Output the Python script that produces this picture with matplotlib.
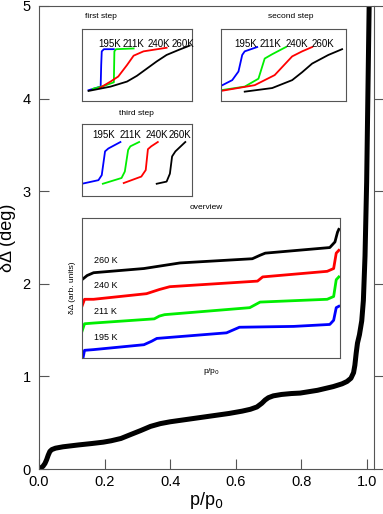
import matplotlib
matplotlib.use("Agg")
import matplotlib.pyplot as plt

plt.rcParams['font.family'] = ['Liberation Sans', 'DejaVu Sans']

# main isotherm
main_x = [0.0, 0.005, 0.012, 0.018, 0.023, 0.028, 0.033, 0.039, 0.05, 0.073, 0.12, 0.16, 0.196, 0.22,
          0.25, 0.278, 0.31, 0.34, 0.37, 0.40, 0.44, 0.48, 0.53, 0.58, 0.62, 0.645, 0.665, 0.68,
          0.69, 0.70, 0.715, 0.74, 0.77, 0.797, 0.85, 0.898, 0.925, 0.94, 0.952, 0.96, 0.964,
          0.968, 0.972, 0.978, 0.985, 0.99, 0.995, 1.0, 1.004, 1.008]
main_y = [0.0, 0.01, 0.03, 0.06, 0.1, 0.15, 0.19, 0.21, 0.225, 0.24, 0.26, 0.275, 0.29, 0.305,
          0.33, 0.37, 0.415, 0.46, 0.49, 0.51, 0.53, 0.55, 0.575, 0.60, 0.625, 0.645, 0.67, 0.71,
          0.745, 0.77, 0.79, 0.805, 0.815, 0.82, 0.85, 0.89, 0.92, 0.945, 0.98, 1.04, 1.12,
          1.25, 1.36, 1.45, 1.6, 1.82, 2.3, 3.1, 4.1, 5.1]

colors = ['#0000ff', '#00ee00', '#ff0000', '#000000']
temps = ['195K', '211K', '240K', '260K']

# first step inset
s1_x = [[0.06, 0.17, 0.175, 0.18, 0.2, 0.29],
        [0.1, 0.2, 0.29, 0.295, 0.31, 0.47],
        [0.16, 0.26, 0.33, 0.41, 0.47, 0.56, 0.77],
        [0.06, 0.26, 0.41, 0.5, 0.59, 0.68, 0.77, 0.88, 0.98]]
s1_y = [[0.15, 0.2, 0.5, 0.69, 0.72, 0.72],
        [0.17, 0.21, 0.26, 0.69, 0.72, 0.73],
        [0.18, 0.27, 0.34, 0.5, 0.63, 0.69, 0.74],
        [0.14, 0.2, 0.27, 0.35, 0.45, 0.55, 0.64, 0.71, 0.77]]
s1_lab_x = [0.25, 0.47, 0.70, 0.92]

# second step inset
s2_x = [[0.0, 0.09, 0.14, 0.17, 0.19, 0.29],
        [0.0, 0.19, 0.3, 0.35, 0.41, 0.52],
        [0.0, 0.27, 0.43, 0.5, 0.57, 0.65, 0.73],
        [0.19, 0.41, 0.57, 0.65, 0.73, 0.86, 0.97]]
s2_y = [[0.21, 0.29, 0.41, 0.64, 0.69, 0.75],
        [0.15, 0.2, 0.31, 0.59, 0.65, 0.75],
        [0.14, 0.22, 0.36, 0.49, 0.62, 0.69, 0.75],
        [0.13, 0.18, 0.29, 0.4, 0.52, 0.64, 0.72]]
s2_lab_x = [0.2, 0.40, 0.61, 0.82]

# third step inset
s3_x = [[0.0, 0.15, 0.18, 0.21, 0.24, 0.35],
        [0.19, 0.36, 0.39, 0.42, 0.44, 0.52],
        [0.38, 0.54, 0.58, 0.60, 0.63, 0.69],
        [0.68, 0.77, 0.80, 0.82, 0.85, 0.94]]
s3_y = [[0.17, 0.22, 0.29, 0.62, 0.66, 0.75],
        [0.17, 0.25, 0.34, 0.64, 0.69, 0.75],
        [0.18, 0.27, 0.36, 0.65, 0.69, 0.75],
        [0.17, 0.2, 0.31, 0.55, 0.62, 0.75]]
s3_lab_x = [0.2, 0.44, 0.68, 0.89]

# overview inset
ov_x = [[0.004, 0.01, 0.045, 0.24, 0.27, 0.29, 0.56, 0.585, 0.61, 0.82, 0.96, 0.975, 0.985, 0.995],
        [0.0, 0.01, 0.045, 0.28, 0.30, 0.32, 0.65, 0.67, 0.69, 0.95, 0.975, 0.985, 0.995],
        [0.0, 0.01, 0.045, 0.25, 0.30, 0.34, 0.68, 0.69, 0.70, 0.95, 0.975, 0.985, 0.995],
        [0.0, 0.02, 0.045, 0.24, 0.31, 0.38, 0.66, 0.69, 0.71, 0.96, 0.98, 0.99, 0.995]]
ov_y = [[0.0, 0.055, 0.06, 0.095, 0.12, 0.14, 0.18, 0.2, 0.22, 0.226, 0.24, 0.27, 0.36, 0.37],
        [0.19, 0.245, 0.25, 0.28, 0.3, 0.31, 0.36, 0.38, 0.4, 0.42, 0.44, 0.56, 0.58],
        [0.37, 0.42, 0.42, 0.46, 0.49, 0.51, 0.55, 0.565, 0.58, 0.62, 0.64, 0.75, 0.77],
        [0.56, 0.59, 0.61, 0.64, 0.66, 0.68, 0.71, 0.735, 0.75, 0.79, 0.83, 0.90, 0.92]]
ov_labels = ['195 K', '211 K', '240 K', '260 K']
ov_lab_y = [0.15, 0.33, 0.52, 0.70]

fig = plt.figure(figsize=(3.83, 5.14), dpi=100)
ax = fig.add_axes([0.102, 0.0875, 0.875, 0.901])
ax.plot(main_x, main_y, color='k', linewidth=3.6, solid_capstyle='round')
ax.set_xlim(0, 1.023)
ax.set_ylim(0, 5)
ax.set_xticks([0.0, 0.2, 0.4, 0.6, 0.8, 1.0])
ax.set_xticklabels(['0.0', '0.2', '0.4', '0.6', '0.8', '1.0'])
ax.set_yticks([0, 1, 2, 3, 4, 5])
ax.tick_params(direction='in', length=7, width=0.8, color='#555555', labelsize=10.5, pad=4)
ax.tick_params(axis='y', pad=6)
for s in ax.spines.values():
    s.set_color('#555555')
    s.set_linewidth(0.8)
ax.set_xlabel('p/p$_0$', fontsize=13, labelpad=1)
ax.set_ylabel('δΔ (deg)', fontsize=13, labelpad=5)
ax2 = ax.twinx()
ax2.set_ylim(0, 5)
ax2.set_yticks([0, 1, 2, 3, 4, 5])
ax2.tick_params(direction='out', length=8, width=0.8, color='#555555', labelright=False)
for s in ax2.spines.values():
    s.set_visible(False)


def step_inset(rect, xs, ys, lab_x, lab_y, title, tx, ty):
    a = fig.add_axes(rect)
    for i in range(4):
        a.plot(xs[i], ys[i], color=colors[i], linewidth=1.3)
        a.text(lab_x[i], lab_y, temps[i], fontsize=7, ha='center', va='center')
    a.set_xlim(0, 1)
    a.set_ylim(0, 1)
    a.set_xticks([])
    a.set_yticks([])
    for s in a.spines.values():
        s.set_color('#555555')
        s.set_linewidth(0.8)
    a.text(tx, ty, title, fontsize=6, ha='center', va='center', transform=a.transAxes)
    return a


step_inset([0.214, 0.8035, 0.287, 0.140], s1_x, s1_y, s1_lab_x, 0.79, 'first step', 0.17, 1.18)
step_inset([0.577, 0.8035, 0.326, 0.140], s2_x, s2_y, s2_lab_x, 0.79, 'second step', 0.56, 1.18)
step_inset([0.214, 0.6187, 0.287, 0.140], s3_x, s3_y, s3_lab_x, 0.85, 'third step', 0.5, 1.15)

ov = fig.add_axes([0.214, 0.3035, 0.674, 0.272])
for i in range(4):
    ov.plot(ov_x[i], ov_y[i], color=colors[i], linewidth=2.0)
    ov.text(0.045, ov_lab_y[i], ov_labels[i], fontsize=6.5, ha='left', va='center')
ov.set_xlim(0, 1)
ov.set_ylim(0, 1)
ov.set_xticks([])
ov.set_yticks([])
for s in ov.spines.values():
    s.set_color('#555555')
    s.set_linewidth(0.8)
ov.text(0.48, 1.08, 'overview', fontsize=6, ha='center', va='center', transform=ov.transAxes)
ov.set_ylabel('δΔ (arb. units)', fontsize=6, labelpad=4)
ov.set_xlabel('p/p$_0$', fontsize=6, labelpad=6)

fig.savefig('out.png', dpi=100)
